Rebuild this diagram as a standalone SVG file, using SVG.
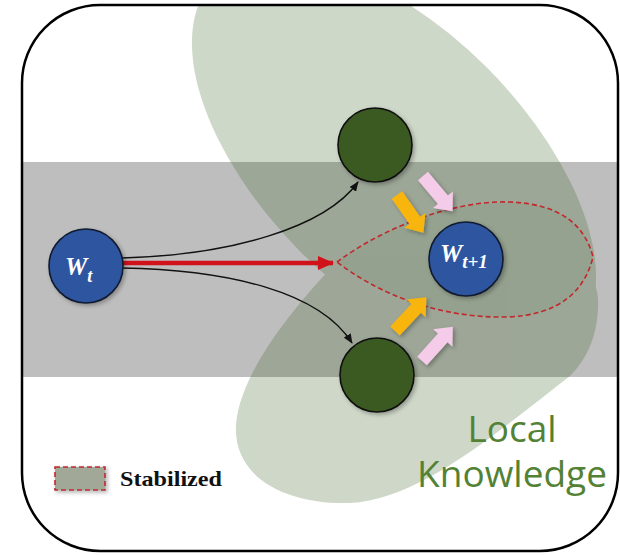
<svg xmlns="http://www.w3.org/2000/svg" xmlns:xlink="http://www.w3.org/1999/xlink" width="620" height="555" viewBox="0 0 620 555">
  <style>
    .blob { fill: #3f6327; }
    .gnode { fill: #3b5a22; stroke: #111; stroke-width: 1.6; }
    .bnode { fill: #2f559f; stroke: #111a2e; stroke-width: 1.6; }
    .math { font-family: "Liberation Serif", "DejaVu Serif", serif; font-weight: bold; font-style: italic; fill: #ffffff; }
    .conn { fill: none; stroke: #111; stroke-width: 1.4; }
    .dash { stroke: #c0282c; stroke-width: 1.6; stroke-dasharray: 5 3; }
    .yel { fill: #f8b50c; }
    .pink { fill: #f4cbe8; }
    .lk { font-family: "Open Sans", "Noto Sans", sans-serif; font-size: 37px; fill: #548235; }
  </style>
  <defs>
    <clipPath id="frame">
      <rect x="22" y="5" width="596" height="546" rx="78" ry="78"/>
    </clipPath>
    <filter id="sh" x="-30%" y="-30%" width="160%" height="160%">
      <feDropShadow dx="2" dy="2" stdDeviation="2" flood-color="#000" flood-opacity="0.3"/>
    </filter>
    <marker id="ah" viewBox="0 0 10 8" refX="9" refY="4" markerWidth="10" markerHeight="8" markerUnits="userSpaceOnUse" orient="auto">
      <path d="M0,0 L10,4 L0,8 Z" fill="#111"/>
    </marker>
    <marker id="ahr" viewBox="0 0 16 14" refX="15" refY="7" markerWidth="16" markerHeight="14" markerUnits="userSpaceOnUse" orient="auto">
      <path d="M0,0 L16,7 L0,14 Z" fill="#d0121a"/>
    </marker>
    <path id="blk" d="M0,-6.5 L31,-6.5 L31,-13 L46,0 L31,13 L31,6.5 L0,6.5 Z"/>
  </defs>

  <rect x="0" y="0" width="620" height="555" fill="#ffffff"/>

  <g id="background" clip-path="url(#frame)">
    <rect id="band" x="22" y="162" width="596" height="215" fill="#bebebe"/>
    <g id="knowledge-areas" opacity="0.25">
      <ellipse id="upper-knowledge" class="blob" cx="394" cy="160" rx="254" ry="131" transform="rotate(45 394 160)"/>
      <path id="local-knowledge" class="blob" d="M337,262 C300,300 240,370 236,425 C233,480 290,505 350,503 C420,500 500,430 570,376 C590,356 599,330 598,298 C594,240 480,200 420,215 C380,225 355,245 337,262 Z"/>
    </g>
  </g>

  <g id="stabilized-region">
    <path d="M337,262 C380,230 450,200 510,202 C560,204 585,225 593,257 C585,290 560,316 505,317 C440,318 380,295 337,262 Z" class="dash" fill="#3f6327" fill-opacity="0.07"/>
  </g>

  <g id="connectors">
    <path d="M122,263 L333,263" fill="none" stroke="#d0121a" stroke-width="4.5" marker-end="url(#ahr)"/>
    <path class="conn" d="M122,258 C230,255 325,228 358,182" marker-end="url(#ah)"/>
    <path class="conn" d="M122,268 C230,270 320,292 352,343" marker-end="url(#ah)"/>
  </g>

  <g id="update-arrows" filter="url(#sh)">
    <use xlink:href="#blk" class="yel" transform="translate(397,195) rotate(55)"/>
    <use xlink:href="#blk" class="yel" transform="translate(395,331) rotate(-47)"/>
    <use xlink:href="#blk" class="pink" transform="translate(423,176) rotate(50)"/>
    <use xlink:href="#blk" class="pink" transform="translate(422,361) rotate(-48)"/>
  </g>

  <g id="node-wt">
    <circle class="bnode" cx="86" cy="266" r="37" filter="url(#sh)"/>
    <text class="math" x="65" y="275" font-size="25">W<tspan font-size="18" dy="7">t</tspan></text>
  </g>

  <g id="node-wt1">
    <circle class="bnode" cx="466" cy="259" r="37" filter="url(#sh)"/>
    <text class="math" x="440" y="262" font-size="25">W<tspan font-size="19" dy="6">t+1</tspan></text>
  </g>

  <g id="node-client-upper">
    <circle class="gnode" cx="375" cy="145" r="37" filter="url(#sh)"/>
  </g>

  <g id="node-client-lower">
    <circle class="gnode" cx="377" cy="375" r="37" filter="url(#sh)"/>
  </g>

  <g id="label-local-knowledge">
    <text class="lk" x="512" y="442" text-anchor="middle">Local</text>
    <text class="lk" x="512" y="487" text-anchor="middle">Knowledge</text>
  </g>

  <g id="legend">
    <rect x="55" y="467" width="50" height="23" fill="#a2a898" class="dash" filter="url(#sh)"/>
    <text x="120" y="486" font-family="'Liberation Serif', 'Times New Roman', serif" font-weight="bold" font-size="22" fill="#111" textLength="102" lengthAdjust="spacingAndGlyphs">Stabilized</text>
  </g>

  <rect id="frame-border" x="22" y="5" width="596" height="546" rx="78" ry="78" fill="none" stroke="#000" stroke-width="2.5"/>
</svg>
